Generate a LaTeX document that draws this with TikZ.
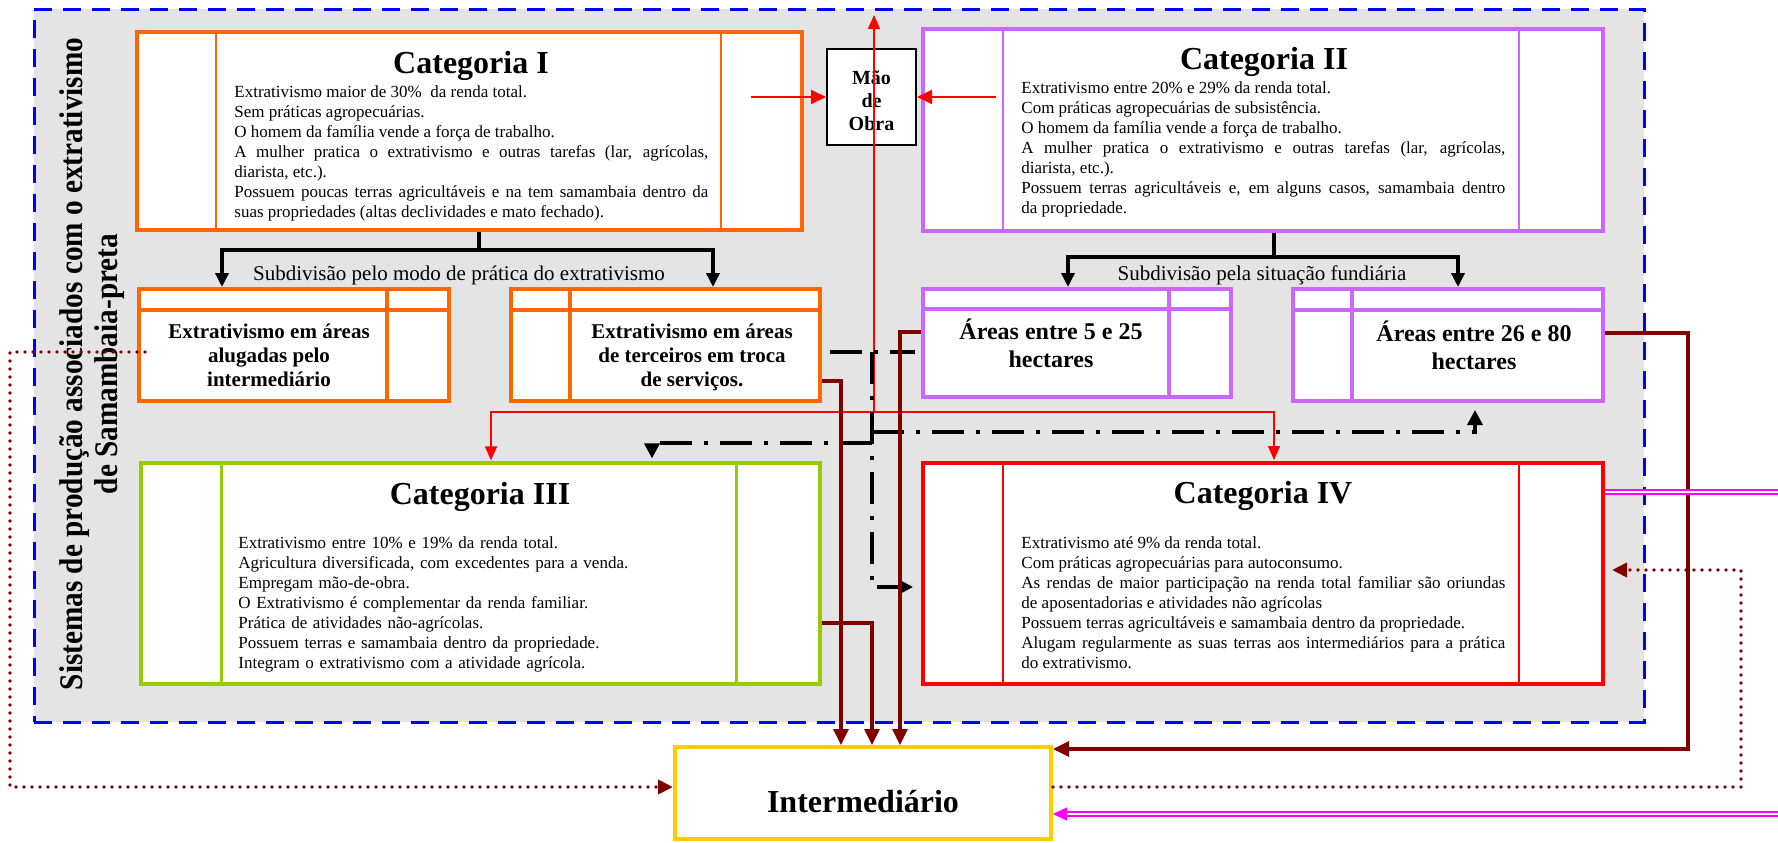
\documentclass[tikz,border=0pt]{standalone}
\usepackage{fontspec}
\setmainfont{Liberation Serif}
\usetikzlibrary{calc,arrows.meta}

\definecolor{laranja}{HTML}{FF6600}
\definecolor{lilas}{HTML}{CC66FF}
\definecolor{verde}{HTML}{99CC00}
\definecolor{vermelho}{HTML}{FF0000}
\definecolor{amarelo}{HTML}{FFCC00}
\definecolor{azul}{HTML}{0000FF}
\definecolor{vinho}{HTML}{800000}
\definecolor{rosa}{HTML}{FF00FF}
\definecolor{fundo}{HTML}{E4E4E4}

\begin{document}
\begin{tikzpicture}[x=0.5pt,y=-0.5pt,
		caixa/.style 2 args={draw,fill=white,line width=2pt,inner sep=0pt,minimum width=#1,minimum height=#2},
		titulo/.style={anchor=base,font=\bfseries\fontsize{16}{18}\selectfont},
		corpo/.style={anchor=base west,inner sep=0pt,align=justify,font=\fontsize{8.5}{10}\selectfont},
		subtexto/.style={anchor=base,inner sep=0pt,align=center,font=\bfseries\fontsize{10.5}{12}\selectfont},
		areatexto/.style={anchor=base,inner sep=0pt,align=center,font=\bfseries\fontsize{12}{14}\selectfont},
		rotulo/.style={anchor=base,inner sep=0pt,font=\fontsize{10.5}{12}\selectfont},
		fio/.style={vermelho,line width=0.7pt,-{Triangle[length=7pt,width=6pt]}},
		setavm/.style={vermelho,line width=1pt,-{Triangle[length=7.5pt,width=7pt]}},
		setapt/.style={black,line width=1.7pt,-{Triangle[length=7pt,width=6.5pt]}},
		tracoponto/.style={black,line width=1.7pt,dash pattern=on 16pt off 6pt on 2pt off 6pt,-{Triangle[length=7.5pt,width=7.5pt]}},
		setavn/.style={vinho,line width=1.6pt,-{Triangle[length=8pt,width=7.5pt]}},
		pontilhado/.style={vinho,line width=1.9pt,line cap=round,dash pattern=on 0pt off 4pt,-{Triangle[length=7.5pt,width=7pt]}},
		dupla/.style={rosa,double=white,line width=0.85pt,double distance=1.3pt}]

	\useasboundingbox (0,0) rectangle (1778,842);

	\node[draw=azul,fill=fundo,line width=1.5pt,dash pattern=on 9pt off 5.5pt,minimum width=805pt,minimum height=356.5pt] (quadro) at (839,365.5) {};

	\node[rotate=90,align=center,font=\bfseries\fontsize{16.5}{17.5}\selectfont] (lateral) at (92,364)
		{\scalebox{0.886}[1]{Sistemas de produção associados com o extrativismo}\\\scalebox{0.886}[1]{de Samambaia-preta}};

	% caixas das categorias
	\node[caixa={332.5pt}{99pt},draw=laranja] (cat1) at (469.5,131) {};
	\node[caixa={340pt}{101pt},draw=lilas] (cat2) at (1263,130) {};
	\node[caixa={339.5pt}{110.5pt},draw=verde,line width=1.6pt] (cat3) at (480.5,573.5) {};
	\node[caixa={340pt}{110.5pt},draw=vermelho] (cat4) at (1263,573.5) {};

	\foreach \n/\c/\a/\b in {cat1/laranja/81/586,cat2/lilas/82/598,cat3/verde/82/597,cat4/vermelho/82/598}{
		\draw[\c,line width=1.4pt] ($(\n.north west)+(\a,0)$) -- ($(\n.south west)+(\a,0)$);
		\draw[\c,line width=1.4pt] ($(\n.north west)+(\b,0)$) -- ($(\n.south west)+(\b,0)$);
	}

	% subdivisoes
	\node[caixa={155pt}{56pt},draw=laranja] (subA) at (294,345) {};
	\node[caixa={154.5pt}{56pt},draw=laranja] (subB) at (665.5,345) {};
	\node[caixa={154pt}{54pt},draw=lilas] (subC) at (1077,343) {};
	\node[caixa={155pt}{56pt},draw=lilas] (subD) at (1448,345) {};

	\foreach \n/\c/\h/\v in {subA/laranja/23/250,subB/laranja/23/61,subC/lilas/22/248,subD/lilas/23/61}{
		\draw[\c,line width=1.8pt] ($(\n.north west)+(0,\h)$) -- ($(\n.north east)+(0,\h)$);
		\draw[\c,line width=1.8pt] ($(\n.north west)+(\v,0)$) -- ($(\n.south west)+(\v,0)$);
	}

	\node[draw,fill=white,line width=1pt,minimum width=44.5pt,minimum height=48pt,inner sep=0pt] (mao) at (871.5,97) {};
	\node[anchor=base,inner sep=0pt,align=center,font=\bfseries\fontsize{10}{11.5}\selectfont] (tmao) at (871.5,130) {Mão\\de\\Obra};
	\node[caixa={188pt}{46pt},draw=amarelo] (inter) at (863,793) {};

	% textos
	\node[titulo] (t1) at (471,73) {Categoria I};
	\node[corpo,text width=237pt] (c1) at (234,97) {Extrativismo maior de 30\%\ \ da renda total.\\
		Sem práticas agropecuárias.\\
		O homem da família vende a força de trabalho.\\
		A mulher pratica o extrativismo e outras tarefas (lar, agrícolas,\linebreak diarista, etc.).\\
		Possuem poucas terras agricultáveis e na tem samambaia dentro da\linebreak suas propriedades (altas declividades e mato fechado).};

	\node[titulo] (t2) at (1264,69) {Categoria II};
	\node[corpo,text width=242pt] (c2) at (1021,93) {Extrativismo entre 20\% e 29\% da renda total.\\
		Com práticas agropecuárias de subsistência.\\
		O homem da família vende a força de trabalho.\\
		A mulher pratica o extrativismo e outras tarefas (lar, agrícolas,\linebreak diarista, etc.).\\
		Possuem terras agricultáveis e, em alguns casos, samambaia dentro\linebreak da propriedade.};

	\node[titulo] (t3) at (480,504) {Categoria III};
	\node[corpo,text width=250pt,align=left] (c3) at (238,548) {Extrativismo entre 10\% e 19\% da renda total.\\
		Agricultura diversificada, com excedentes para a venda.\\
		Empregam mão-de-obra.\\
		O Extrativismo é complementar da renda familiar.\\
		Prática de atividades não-agrícolas.\\
		Possuem terras e samambaia dentro da propriedade.\\
		Integram o extrativismo com a atividade agrícola.};

	\node[titulo] (t4) at (1263,503) {Categoria IV};
	\node[corpo,text width=242pt] (c4) at (1021,548) {Extrativismo até 9\% da renda total.\\
		Com práticas agropecuárias para autoconsumo.\\
		As rendas de maior participação na renda total familiar são oriundas\linebreak de aposentadorias e atividades não agrícolas\\
		Possuem terras agricultáveis e samambaia dentro da propriedade.\\
		Alugam regularmente as suas terras aos intermediários para a prática\linebreak do extrativismo.};

	\node[subtexto] (ta) at (269,386) {Extrativismo em áreas\\alugadas pelo\\intermediário};
	\node[subtexto] (tb) at (692,386) {Extrativismo em áreas\\de terceiros em troca\\de serviços.};
	\node[areatexto] (tc) at (1051,367) {Áreas entre 5 e 25\\hectares};
	\node[areatexto] (td) at (1474,369) {Áreas entre 26 e 80\\hectares};

	\node[rotulo] (sd1) at (459,280) {Subdivisão pelo modo de prática do extrativismo};
	\node[rotulo] (sd2) at (1262,280) {Subdivisão pela situação fundiária};

	\node[anchor=base,inner sep=0pt,font=\bfseries\fontsize{16}{18}\selectfont] (ti) at (863,812) {Intermediário};

	% mao de obra
	\coordinate (mo1) at (751,97);
	\coordinate (mo2) at (996,97);
	\draw[setavm] (mo1) -- (mao.west);
	\draw[setavm] (mo2) -- (mao.east);

	\coordinate (rv) at (874,412);
	\coordinate (rtopo) at (874,15);
	\draw[fio] (rv) -- (rtopo);
	\draw[fio] (rv) -| ($(cat3.north)+(10.5,-1)$);
	\draw[fio] (rv) -| ($(cat4.north)+(11,-1)$);

	% subdivisoes
	\coordinate (b1) at (479,250);
	\coordinate (b2) at (1274,257);
	\draw[setapt,-] ($(cat1.south)+(9.5,0)$) -- (b1);
	\draw[setapt] (b1) -| ($(subA.north)+(-72,0)$);
	\draw[setapt] (b1) -| ($(subB.north)+(47.5,0)$);
	\draw[setapt,-] ($(cat2.south)+(11,0)$) -- (b2);
	\draw[setapt] (b2) -| ($(subC.north)+(-9,0)$);
	\draw[setapt] (b2) -| ($(subD.north)+(10,0)$);

	% traco e ponto
	\coordinate (d0) at (872,352);
	\coordinate (d1) at (872,432);
	\coordinate (d2) at (872,443);
	\draw[tracoponto,-] ($(subB.east)+(8,7)$) -- ($(subC.west)+(-6,9)$);
	\draw[tracoponto] (d0) |- ($(cat4.west)+(-8,13.5)$);
	\draw[tracoponto] (d1) -| ($(subD.south)+(27,7)$);
	\draw[tracoponto] (d2) -| ($(cat3.north)+(171.5,-3)$);

	% para o intermediario
	\draw[setavn] ($(subB.east)+(0,36)$) -| ($(inter.north)+(-22,0)$);
	\draw[setavn] ($(cat3.east)+(0,49.5)$) -| ($(inter.north)+(9,0)$);
	\draw[setavn] ($(subC.west)+(0,-11)$) -| ($(inter.north)+(37,0)$);
	\coordinate (v1) at (1688,749);
	\draw[setavn] ($(subD.east)+(0,-12)$) -| (v1) -- ($(inter.east)+(0,-44)$);

	\coordinate (p0) at (145,352);
	\coordinate (p1) at (10,787);
	\coordinate (p2) at (1741,570);
	\draw[pontilhado] (p0) -| (p1) -- ($(inter.west)+(0,-6)$);
	\draw[pontilhado] ($(inter.east)+(0,-6)$) -| (p2) -- ($(cat4.east)+(7,-3.5)$);

	\coordinate (m1) at (1778,492);
	\coordinate (m2) at (1778,814);
	\draw[dupla] ($(cat4.east)+(0,-81.5)$) -- (m1);
	\draw[dupla,-{Triangle[length=7pt,width=6.5pt]}] (m2) -- ($(inter.east)+(0,21)$);
\end{tikzpicture}
\end{document}
